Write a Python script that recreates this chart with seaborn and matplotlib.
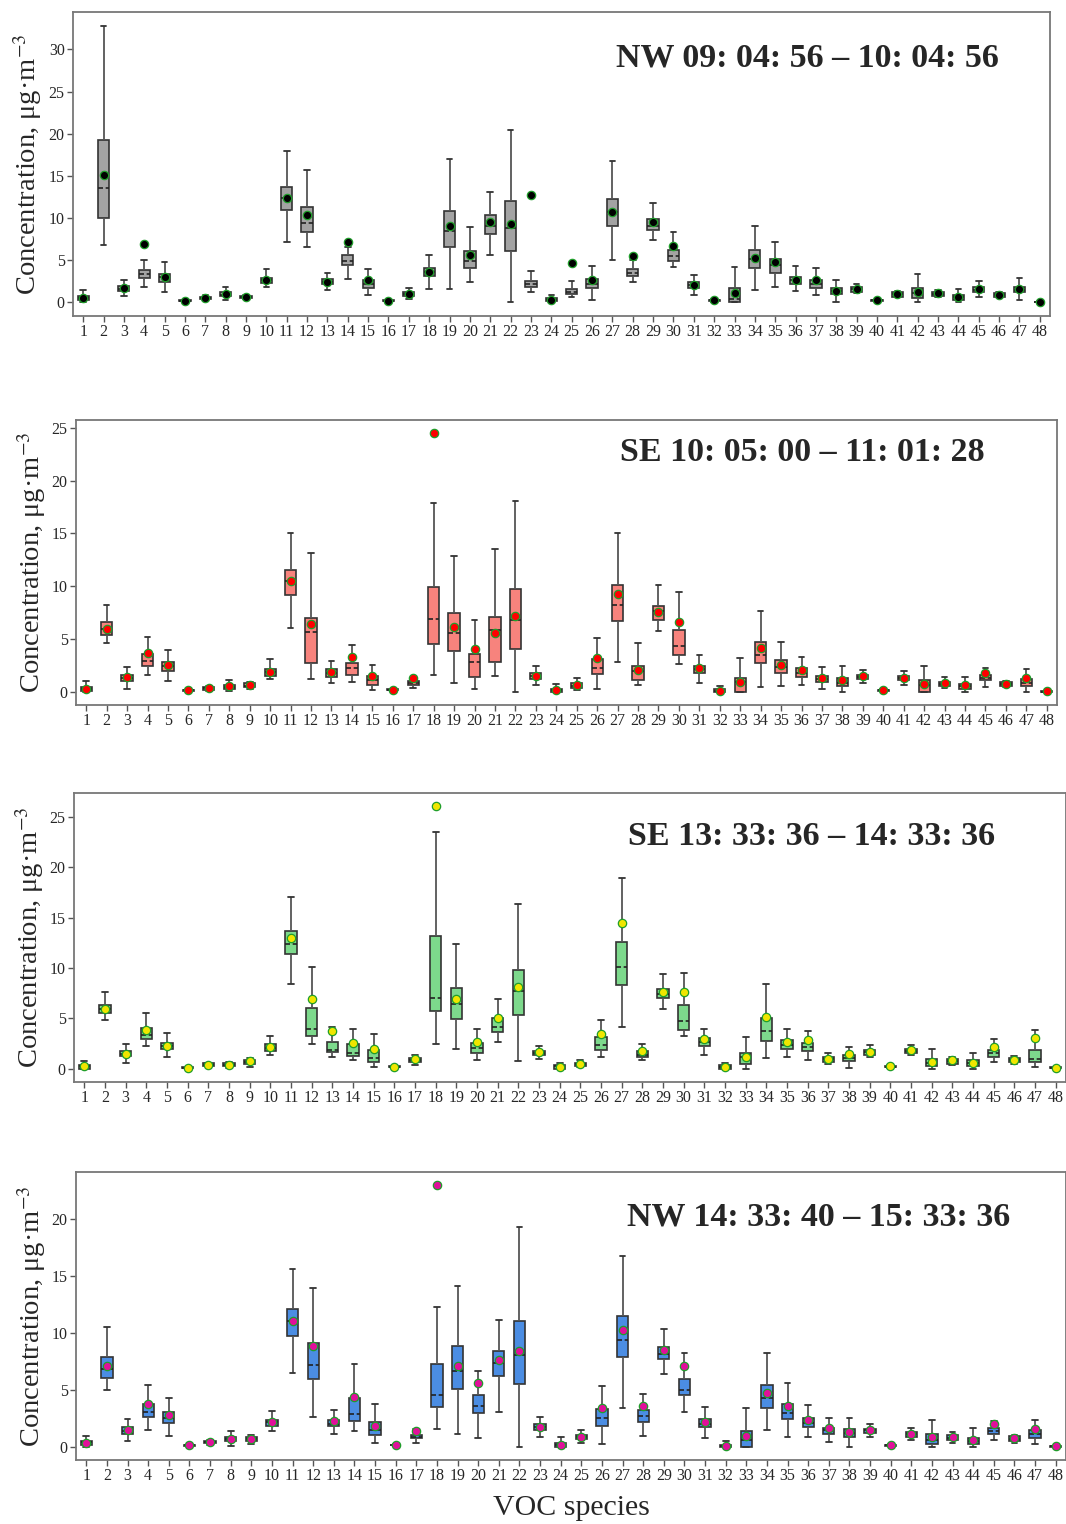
import numpy as np
import pandas as pd
import matplotlib
matplotlib.use("Agg")
import matplotlib.pyplot as plt
import seaborn as sns

species = [str(i) for i in range(1, 49)]

# ---------------- Panel 1: NW 09:04:56 - 10:04:56 ----------------
p1_lo = [0.0, 6.8, 0.75, 1.85, 1.2, 0.05, 0.3, 0.25, 0.4, 1.8, 7.1, 6.5, 1.4, 2.8, 0.9, 0.05,
         0.4, 1.6, 1.6, 2.4, 5.65, 0.0, 1.25, 0.05, 0.67, 0.2, 5.05, 2.35, 7.4, 4.15, 0.85, 0.05,
         0.0, 1.5, 1.8, 1.33, 0.8, 0.05, 1.05, 0.1, 0.6, 0.05, 0.6, 0.0, 0.63, 0.6, 0.3, 0.02]
p1_q1 = [0.3, 10.0, 1.33, 2.9, 2.45, 0.1, 0.4, 0.7, 0.5, 2.3, 10.9, 8.3, 2.1, 4.4, 1.7, 0.1,
         0.75, 3.15, 6.55, 4.1, 8.15, 6.05, 1.85, 0.1, 0.95, 1.7, 9.1, 3.15, 8.6, 4.9, 1.65, 0.1,
         0.0, 4.1, 3.5, 2.2, 1.7, 0.95, 1.25, 0.15, 0.67, 0.55, 0.7, 0.27, 1.18, 0.67, 1.18, 0.04]
p1_med = [0.5, 13.6, 1.6, 3.33, 3.0, 0.15, 0.5, 0.9, 0.6, 2.6, 12.4, 9.4, 2.4, 4.85, 2.1, 0.15,
          1.0, 3.6, 8.5, 4.85, 9.1, 8.8, 2.1, 0.25, 1.25, 2.2, 10.7, 3.5, 9.1, 5.45, 2.0, 0.2,
          0.4, 5.1, 4.4, 2.6, 2.1, 1.3, 1.55, 0.2, 0.95, 1.05, 0.95, 0.6, 1.45, 0.9, 1.5, 0.06]
p1_q3 = [0.75, 19.25, 1.96, 3.8, 3.4, 0.2, 0.65, 1.15, 0.7, 2.9, 13.7, 11.3, 2.7, 5.6, 2.6, 0.2,
         1.25, 4.1, 10.8, 6.1, 10.3, 12.0, 2.55, 0.45, 1.6, 2.8, 12.2, 3.95, 9.85, 6.25, 2.35, 0.3,
         1.7, 6.15, 5.1, 3.0, 2.6, 1.65, 1.85, 0.25, 1.18, 1.7, 1.2, 0.86, 1.75, 1.1, 1.85, 0.08]
p1_hi = [1.5, 32.8, 2.6, 5.05, 4.8, 0.3, 0.8, 1.75, 0.8, 3.9, 18.0, 15.7, 3.5, 6.6, 3.9, 0.3,
         1.65, 5.65, 17.0, 8.95, 13.1, 20.4, 3.7, 0.86, 2.5, 4.35, 16.8, 5.0, 11.75, 8.3, 3.2, 0.35,
         4.15, 9.0, 7.2, 4.3, 4.1, 2.6, 2.1, 0.3, 1.33, 3.3, 1.4, 1.6, 2.5, 1.2, 2.9, 0.1]
p1_mean = [0.5, 15.1, 1.65, 6.9, 3.0, 0.15, 0.55, 0.95, 0.6, 2.6, 12.4, 10.4, 2.45, 7.1, 2.6, 0.15,
           1.0, 3.6, 9.1, 5.65, 9.5, 9.3, 12.7, 0.27, 4.6, 2.6, 10.7, 5.5, 9.55, 6.65, 2.05, 0.2,
           1.05, 5.3, 4.8, 2.6, 2.6, 1.33, 1.57, 0.2, 0.98, 1.18, 1.14, 0.59, 1.53, 0.9, 1.57, 0.08]

# ---------------- Panel 2: SE 10:05:00 - 11:01:28 ----------------
p2_lo = [0.0, 4.65, 0.31, 1.57, 1.0, 0.05, 0.1, 0.1, 0.25, 1.2, 6.06, 1.2, 0.82, 0.97, 0.16, 0.1,
         0.38, 1.6, 0.88, 0.31, 1.54, 0.0, 0.63, 0.0, 0.16, 0.31, 2.83, 0.69, 5.75, 2.64, 0.82, 0.0,
         0.0, 0.47, 0.57, 0.63, 0.31, 0.0, 0.88, 0.08, 0.63, 0.0, 0.38, 0.0, 0.47, 0.5, 0.0, 0.02]
p2_q1 = [0.06, 5.43, 1.04, 2.48, 1.98, 0.1, 0.2, 0.31, 0.44, 1.54, 9.17, 2.7, 1.44, 1.57, 0.69, 0.15,
         0.69, 4.55, 3.9, 1.41, 2.86, 4.08, 1.26, 0.02, 0.41, 1.66, 6.72, 1.13, 6.82, 3.49, 1.76, 0.0,
         0.0, 2.76, 1.79, 1.44, 0.91, 0.57, 1.26, 0.12, 1.1, 0.0, 0.57, 0.28, 1.16, 0.57, 0.57, 0.03]
p2_med = [0.3, 6.0, 1.3, 2.95, 2.42, 0.15, 0.35, 0.5, 0.6, 1.85, 10.46, 5.72, 1.82, 2.29, 1.13, 0.2,
          0.85, 6.9, 5.56, 2.8, 5.9, 6.85, 1.5, 0.2, 0.6, 2.29, 8.2, 1.95, 7.63, 4.37, 2.14, 0.08,
          0.94, 3.52, 2.36, 1.82, 1.2, 0.82, 1.45, 0.16, 1.3, 0.7, 0.8, 0.55, 1.35, 0.75, 0.82, 0.05]
p2_q3 = [0.5, 6.63, 1.6, 3.6, 2.83, 0.2, 0.45, 0.69, 0.82, 2.2, 11.56, 7.04, 2.17, 2.76, 1.5, 0.25,
         1.04, 9.9, 7.5, 3.58, 7.13, 9.74, 1.79, 0.31, 0.85, 3.08, 10.08, 2.51, 8.1, 5.87, 2.45, 0.25,
         1.32, 4.71, 3.0, 2.29, 1.51, 1.35, 1.63, 0.2, 1.51, 1.1, 0.97, 0.79, 1.6, 0.97, 1.19, 0.07]
p2_hi = [1.04, 8.2, 2.35, 5.18, 3.96, 0.25, 0.55, 1.13, 0.97, 3.1, 15.07, 13.13, 2.98, 4.46, 2.54, 0.3,
         1.35, 17.87, 12.85, 6.82, 13.57, 18.06, 2.42, 0.72, 1.32, 5.12, 15.07, 4.65, 10.08, 9.45, 3.52, 0.53,
         3.2, 7.66, 4.71, 3.33, 2.36, 2.42, 2.07, 0.25, 1.98, 2.48, 1.44, 1.44, 2.29, 1.05, 2.14, 0.09]
p2_mean = [0.31, 6.0, 1.41, 3.67, 2.6, 0.15, 0.38, 0.57, 0.69, 1.92, 10.46, 6.44, 1.92, 3.3, 1.48, 0.19,
           1.35, 24.5, 6.16, 4.05, 5.56, 7.22, 1.54, 0.22, 0.63, 3.23, 9.26, 2.04, 7.6, 6.6, 2.23, 0.1,
           0.97, 4.15, 2.54, 2.04, 1.35, 1.1, 1.48, 0.19, 1.29, 0.75, 0.82, 0.63, 1.82, 0.75, 1.35, 0.06]

# ---------------- Panel 3: SE 13:33:36 - 14:33:36 ----------------
p3_lo = [0.0, 4.85, 0.6, 2.3, 1.15, 0.05, 0.25, 0.1, 0.16, 1.42, 8.38, 2.47, 1.22, 0.89, 0.23, 0.1,
         0.4, 2.44, 1.95, 0.89, 2.67, 0.79, 1.02, 0.0, 0.15, 1.15, 4.19, 0.92, 5.97, 3.3, 1.42, 0.0,
         0.0, 1.09, 1.15, 0.86, 0.49, 0.1, 1.15, 0.1, 1.35, 0.0, 0.4, 0.0, 0.66, 0.53, 0.23, 0.02]
p3_q1 = [0.0, 5.54, 1.25, 3.0, 1.98, 0.08, 0.3, 0.25, 0.53, 1.78, 11.35, 3.27, 1.65, 1.32, 0.66, 0.15,
         0.66, 5.7, 4.95, 1.55, 3.69, 5.38, 1.35, 0.0, 0.26, 1.85, 8.28, 1.19, 6.99, 3.89, 2.31, 0.0,
         0.53, 2.8, 2.01, 1.78, 0.69, 0.76, 1.39, 0.15, 1.58, 0.26, 0.53, 0.26, 1.15, 0.66, 0.66, 0.05]
p3_med = [0.25, 5.97, 1.5, 3.4, 2.25, 0.12, 0.4, 0.4, 0.7, 2.1, 12.37, 3.99, 1.91, 1.58, 1.05, 0.2,
          0.9, 6.99, 6.4, 2.08, 4.19, 7.68, 1.6, 0.25, 0.45, 2.37, 10.06, 1.42, 7.39, 4.78, 2.67, 0.2,
          1.19, 3.76, 2.41, 2.14, 0.99, 1.05, 1.65, 0.22, 1.8, 0.59, 0.8, 0.55, 1.58, 0.9, 0.99, 0.1]
p3_q3 = [0.4, 6.37, 1.78, 4.09, 2.57, 0.16, 0.55, 0.55, 0.92, 2.47, 13.69, 6.07, 2.64, 2.44, 1.85, 0.25,
         1.09, 13.2, 8.01, 2.57, 5.05, 9.8, 1.81, 0.4, 0.63, 3.13, 12.57, 1.75, 7.92, 6.37, 3.03, 0.4,
         1.58, 5.05, 2.84, 2.57, 1.19, 1.35, 1.91, 0.3, 2.01, 0.99, 0.99, 0.86, 1.88, 1.09, 1.91, 0.14]
p3_hi = [0.76, 7.62, 2.5, 5.57, 3.53, 0.2, 0.6, 0.7, 1.12, 3.3, 17.08, 10.13, 4.12, 3.92, 3.46, 0.3,
         1.39, 23.5, 12.37, 3.99, 6.96, 16.39, 2.24, 0.6, 0.86, 4.85, 18.9, 2.5, 9.37, 9.47, 3.99, 0.6,
         3.17, 8.41, 3.99, 3.76, 1.58, 2.21, 2.34, 0.35, 2.34, 2.01, 1.15, 1.55, 2.97, 1.29, 3.86, 0.18]
p3_mean = [0.26, 5.97, 1.52, 3.83, 2.28, 0.13, 0.4, 0.4, 0.76, 2.18, 13.0, 6.96, 3.76, 2.57, 1.98, 0.2,
           0.96, 26.05, 6.96, 2.64, 5.05, 8.08, 1.65, 0.23, 0.49, 3.46, 14.51, 1.75, 7.59, 7.65, 2.94, 0.2,
           1.15, 5.18, 2.64, 2.87, 0.99, 1.52, 1.72, 0.26, 1.85, 0.69, 0.86, 0.59, 2.21, 0.92, 3.07, 0.13]

# ---------------- Panel 4: NW 14:33:40 - 15:33:36 ----------------
p4_lo = [0.0, 4.98, 0.52, 1.51, 0.99, 0.08, 0.2, 0.09, 0.23, 1.37, 6.46, 2.62, 1.14, 1.37, 0.38, 0.1,
         0.38, 1.54, 1.11, 0.82, 3.09, 0.0, 0.84, 0.0, 0.32, 0.23, 3.41, 0.99, 6.35, 3.03, 0.76, 0.0,
         0.0, 1.48, 0.84, 0.84, 0.47, 0.0, 0.87, 0.08, 0.64, 0.0, 0.38, 0.0, 0.64, 0.38, 0.29, 0.02]
p4_q1 = [0.2, 6.03, 1.16, 2.65, 2.13, 0.12, 0.3, 0.52, 0.5, 1.86, 9.75, 5.97, 1.8, 2.27, 1.02, 0.13,
         0.76, 3.52, 5.09, 3.0, 6.23, 5.53, 1.48, 0.0, 0.67, 1.86, 7.86, 2.18, 7.66, 4.51, 1.75, 0.0,
         0.0, 3.41, 2.47, 1.75, 1.16, 0.87, 1.25, 0.12, 0.87, 0.23, 0.58, 0.23, 1.16, 0.52, 0.82, 0.03]
p4_med = [0.4, 6.87, 1.4, 3.09, 2.56, 0.16, 0.42, 0.7, 0.65, 2.15, 11.0, 7.22, 2.05, 2.85, 1.46, 0.17,
          0.9, 4.54, 6.64, 3.61, 7.31, 8.01, 1.75, 0.2, 0.85, 2.56, 9.4, 2.71, 8.18, 5.01, 2.0, 0.08,
          0.6, 4.31, 3.0, 2.13, 1.45, 1.22, 1.45, 0.16, 1.1, 0.64, 0.8, 0.5, 1.4, 0.7, 1.16, 0.05]
p4_q3 = [0.55, 7.92, 1.72, 3.73, 3.03, 0.2, 0.55, 0.9, 0.84, 2.36, 12.11, 9.14, 2.39, 4.31, 2.15, 0.21,
         1.08, 7.28, 8.85, 4.54, 8.36, 11.03, 2.01, 0.38, 1.08, 3.35, 11.5, 3.2, 8.73, 5.97, 2.42, 0.2,
         1.43, 5.39, 3.76, 2.5, 1.69, 1.54, 1.6, 0.2, 1.34, 1.11, 1.02, 0.76, 1.69, 0.93, 1.48, 0.07]
p4_hi = [0.96, 10.51, 2.45, 5.41, 4.25, 0.25, 0.6, 1.4, 1.02, 3.11, 15.55, 13.92, 3.23, 7.25, 3.78, 0.25,
         1.6, 12.29, 14.09, 6.64, 11.15, 19.27, 2.65, 0.87, 1.46, 5.36, 16.71, 4.6, 10.31, 8.21, 3.46, 0.52,
         3.41, 8.27, 5.59, 3.64, 2.5, 2.56, 1.98, 0.25, 1.69, 2.39, 1.31, 1.66, 2.27, 1.08, 2.39, 0.09]
p4_mean = [0.38, 7.1, 1.48, 3.78, 2.79, 0.17, 0.44, 0.73, 0.7, 2.21, 11.0, 8.88, 2.27, 4.4, 1.83, 0.17,
           1.37, 22.94, 7.07, 5.56, 7.6, 8.38, 1.75, 0.2, 0.9, 3.44, 10.22, 3.55, 8.53, 7.1, 2.15, 0.09,
           0.96, 4.72, 3.61, 2.36, 1.63, 1.34, 1.48, 0.17, 1.14, 0.87, 0.87, 0.58, 1.98, 0.76, 1.57, 0.06]

titles = ["NW 09: 04: 56 \u2013 10: 04: 56",
          "SE 10: 05: 00 \u2013 11: 01: 28",
          "SE 13: 33: 36 \u2013 14: 33: 36",
          "NW 14: 33: 40 \u2013 15: 33: 36"]
box_colors = ["#a3a3a3", "#f7837d", "#7dd98c", "#4b8de3"]
mean_colors = ["#000000", "#ff0000", "#f0e600", "#e0109a"]

panels = [
    (p1_lo, p1_q1, p1_med, p1_q3, p1_hi, p1_mean),
    (p2_lo, p2_q1, p2_med, p2_q3, p2_hi, p2_mean),
    (p3_lo, p3_q1, p3_med, p3_q3, p3_hi, p3_mean),
    (p4_lo, p4_q1, p4_med, p4_q3, p4_hi, p4_mean),
]

sns.set_theme(style="ticks")
plt.rcParams['font.family'] = ['Liberation Serif', 'DejaVu Serif']
plt.rcParams['mathtext.fontset'] = 'stix'

W, H = 1066, 1524
fig = plt.figure(figsize=(W / 100, H / 100), dpi=100)
# axes rectangles in pixels: left, right, top, bottom
rects = [(73, 1050, 12, 316), (76, 1057, 420, 705), (74, 1066, 793, 1082), (76, 1066, 1172, 1460)]
title_pos = [(0.752, 0.848), (0.740, 0.886), (0.744, 0.850), (0.750, 0.843)]

for i, (stats, rect) in enumerate(zip(panels, rects)):
    lo, q1, med, q3, hi, mean = stats
    l, r, t, b = rect
    ax = fig.add_axes([l / W, 1 - b / H, (r - l) / W, (b - t) / H])
    rows = []
    for k, s in enumerate(species):
        for v in (lo[k], q1[k], med[k], q3[k], hi[k]):
            rows.append((s, v))
    df = pd.DataFrame(rows, columns=["species", "value"])
    sns.boxplot(data=df, x="species", y="value", order=species, whis=(0, 100),
                width=0.55, color=box_colors[i], saturation=1, linecolor="#333333",
                linewidth=1.2, showfliers=False,
                medianprops=dict(linestyle=(0, (3, 1.6)), color="#222222", linewidth=1.2),
                whiskerprops=dict(color="#555555", linewidth=1.3),
                capprops=dict(color="#333333", linewidth=1.3),
                ax=ax)
    sns.stripplot(x=species, y=mean, order=species, jitter=False, color=mean_colors[i],
                  edgecolor="#1f9e2a", linewidth=0.9, size=6, ax=ax, zorder=5)
    ax.set_xlim(-0.5, 47.5)
    ax.set_ylabel("Concentration, \u03bcg\u00b7m$^{-3}$", fontsize=20.5, labelpad=3)
    ax.set_xlabel("")
    ax.tick_params(axis="both", direction="out", length=4, width=1, color="#555555",
                   labelsize=11.5, pad=2)
    for sp in ax.spines.values():
        sp.set_visible(True)
        sp.set_color("#777777")
        sp.set_linewidth(1.3)
    ax.text(title_pos[i][0], title_pos[i][1], titles[i], transform=ax.transAxes,
            ha="center", va="center", fontsize=24.5, fontweight="bold")
    if i == 3:
        ax.set_xlabel("VOC species", fontsize=21.5, labelpad=8)

fig.savefig("out.png", dpi=100)
